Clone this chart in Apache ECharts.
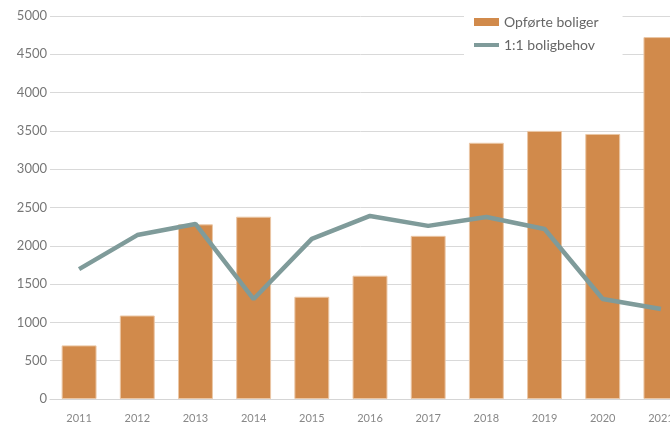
<!DOCTYPE html>
<html><head><meta charset="utf-8">
<script src="https://cdn.jsdelivr.net/npm/echarts@6/dist/echarts.min.js"></script>
<style>html,body{margin:0;padding:0;background:#fff}#c{width:670px;height:427px}</style>
</head><body><div id="c"></div>
<script>
const categories = ['2011','2012','2013','2014','2015','2016','2017','2018','2019','2020','2021'];
const opforteBoliger = [700, 1090, 2280, 2380, 1335, 1610, 2130, 3345, 3500, 3460, 4725];
const boligbehov = [1695, 2140, 2285, 1305, 2090, 2390, 2260, 2375, 2220, 1305, 1175];
const yTicks = [0, 500, 1000, 1500, 2000, 2500, 3000, 3500, 4000, 4500, 5000];

const chart = echarts.init(document.getElementById('c'));
chart.setOption({
  animation: false,
  textStyle: { fontFamily: 'Lato' },
  grid: { left: 50, width: 640, top: 16, bottom: 28, outerBoundsMode: 'none', containLabel: false },
  legend: {
    orient: 'vertical', left: 464, top: 10,
    backgroundColor: '#fff', padding: [5, 24, 6, 10], itemGap: 9,
    itemWidth: 25, itemHeight: 8,
    textStyle: { color: '#666', fontSize: 14, fontFamily: 'Lato' },
    data: [
      { name: 'Opførte boliger', icon: 'rect', itemStyle: { borderWidth: 0 } },
      { name: '1:1 boligbehov', icon: 'path://M0,0 L25,0 L25,4 L0,4 Z' }
    ]
  },
  xAxis: {
    type: 'category', data: categories,
    axisLine: { lineStyle: { color: '#d5d5d5' } },
    axisTick: { show: false },
    axisLabel: { color: '#888', fontSize: 11, margin: 14 }
  },
  yAxis: {
    type: 'value', min: yTicks[0], max: yTicks[yTicks.length - 1], interval: 500,
    axisLine: { show: false }, axisTick: { show: false },
    axisLabel: { color: '#777', fontSize: 13, margin: 3, formatter: v => String(v) },
    splitLine: { lineStyle: { color: '#d9d9d9' } }
  },
  series: [
    {
      name: 'Opførte boliger', type: 'bar', data: opforteBoliger, barWidth: '60%',
      itemStyle: { color: '#D18A4B', borderColor: '#EBC7A6', borderWidth: 1 }
    },
    {
      name: '1:1 boligbehov', type: 'line', data: boligbehov,
      symbol: 'none', lineStyle: { color: '#7F9B9A', width: 4.5 },
      itemStyle: { color: '#7F9B9A' }
    }
  ]
});
</script></body></html>
